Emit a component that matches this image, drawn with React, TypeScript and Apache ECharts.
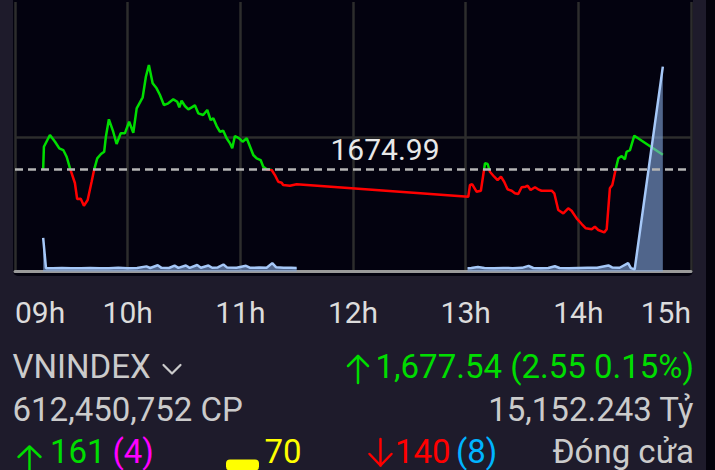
import React, { useEffect, useRef } from "react";
import * as echarts from "echarts";

// ---- data ----
const refPrice = 1674.99;
const hourLabels = ["09h", "10h", "11h", "12h", "13h", "14h", "15h"];

// minutes after 09:00
const priceMinutes = [
  15.0, 15.4, 18.6, 21.3, 23.6, 25.7, 27.5, 29.3, 31.9, 33.1, 35.0, 36.7, 38.7, 40.8, 42.2,
  43.8, 45.8, 47.5, 48.4, 50.0, 52.3, 54.1, 56.3, 58.5, 60.8, 63.0, 64.8, 68.0, 69.7, 71.3,
  73.3, 75.4, 77.2, 79.3, 81.6, 84.3, 86.4, 87.5, 88.7, 90.5, 92.3, 94.1, 95.8, 97.6, 100.2,
  102.4, 104.2, 105.6, 107.4, 109.1, 110.9, 112.7, 114.5, 115.7, 117.1, 119.4, 121.2, 123.4,
  125.5, 126.9, 128.7, 130.8, 132.2, 134.0, 136.7, 138.4, 140.2, 142.0, 142.8, 146.4, 150.0,
  241.4, 242.3, 243.5, 245.8, 248.1, 250.3, 251.7, 252.9, 255.2, 257.0, 258.8, 260.5, 262.3,
  264.5, 266.2, 268.0, 269.8, 271.9, 273.0, 274.6, 276.9, 278.6, 280.4, 283.1, 285.8, 287.2,
  289.3, 292.0, 294.6, 296.4, 299.1, 301.8, 304.0, 307.1, 308.8, 310.6, 313.8, 315.1, 316.8,
  318.1, 319.9, 321.3, 323.1, 324.8, 325.7, 327.5, 329.8, 345.0,
];
const priceValues = [
  1674.99, 1678.94, 1680.98, 1679.81, 1678.66, 1678.36, 1677.19, 1675.16, 1672.6, 1669.8,
  1669.85, 1668.63, 1669.63, 1672.82, 1674.99, 1676.91, 1677.66, 1678.06, 1680.69, 1683.73,
  1681.56, 1679.41, 1681.28, 1681.28, 1683.31, 1681.38, 1685.65, 1687.57, 1691.17, 1693.21,
  1690.01, 1689.14, 1687.97, 1686.22, 1686.52, 1687.22, 1686.8, 1685.82, 1686.97, 1686.05,
  1685.47, 1685.82, 1686.17, 1684.77, 1684.48, 1685.35, 1683.6, 1683.9, 1682.55, 1681.56,
  1681.73, 1680.41, 1679.53, 1678.66, 1680.81, 1680.41, 1679.81, 1680.41, 1678.66, 1677.49,
  1676.91, 1676.61, 1675.44, 1674.99, 1674.87, 1673.99, 1672.82, 1672.65, 1672.25, 1672.12,
  1672.37,
  1670.2, 1672.25, 1672.37, 1671.08, 1671.25, 1676.04, 1675.92, 1674.57, 1673.7, 1673.12,
  1673.7, 1672.82, 1671.5, 1671.25, 1670.8, 1670.67, 1671.85, 1671.95, 1672.12, 1671.37,
  1671.85, 1671.5, 1671.25, 1671.25, 1671.25, 1670.8, 1667.88, 1667.3, 1668.18, 1667.76,
  1666.43, 1665.43, 1664.68, 1664.51, 1664.96, 1664.39, 1663.98, 1664.51, 1671.67, 1672.25,
  1674.99, 1676.91, 1677.31, 1676.74, 1678.06, 1678.36, 1680.86, 1677.54,
];

// volume (relative units), null = lunch break
const volMinutes = [
  15, 16.5, 20, 25, 30, 35, 40, 45, 50, 55, 60, 65, 70, 72, 76, 78, 82, 85, 87, 91, 93, 97, 99,
  103, 105, 108, 111, 113, 118, 123, 125, 130, 134, 137, 139, 143, 147, 150,
  195,
  241, 243, 246.5, 250, 255, 260, 265, 270, 273.5, 276, 280, 284, 287.5, 290, 295, 300, 305,
  310, 316, 318, 322, 326.5, 328, 330, 345,
];
const volValues: (number | null)[] = [
  25, 2.5, 2.4, 2.6, 2.4, 2.5, 2.6, 2.4, 2.5, 2.7, 2.5, 2.6, 3.8, 2.6, 4.6, 2.7, 2.6, 4.3, 2.7,
  4.5, 2.7, 4.8, 2.8, 4.4, 2.8, 3.0, 5.2, 2.9, 2.8, 4.2, 2.8, 2.9, 2.8, 6.2, 3.2, 2.8, 2.7, 2.6,
  null,
  2.4, 2.6, 3.4, 2.6, 2.5, 2.6, 2.5, 2.7, 4.2, 2.6, 2.5, 2.6, 3.9, 2.6, 2.5, 2.6, 2.7, 2.8,
  4.5, 3.0, 2.8, 6.2, 2.5, 1.6, 152,
];

const indexName = "VNINDEX";
const lastPriceText = "1,677.54 (2.55 0.15%)";
const totalVolumeText = "612,450,752 CP";
const totalValueText = "15,152.243 Tỷ";
const advancesText = "161";
const ceilingText = "(4)";
const unchangedText = "70";
const declinesText = "140";
const floorText = "(8)";
const statusText = "Đóng cửa";

const priceAxisMin = 1657.14;
const priceAxisMax = 1704.22;

export default function App() {
  const ref = useRef<HTMLDivElement>(null);
  useEffect(() => {
    const chart = echarts.init(ref.current!, null, { renderer: "svg" });
    const FONT = "Roboto, sans-serif";
    const GREEN = "#00dd00";
    const RED = "#ff0000";
    const GRAY = "#cbcbcb";
    const txt = (text: string, x: number, y: number, fill: string, align = "left", size = 33) => ({
      type: "text",
      x,
      y,
      z: 10,
      silent: true,
      style: {
        text,
        fill,
        fontSize: size,
        fontFamily: FONT,
        textAlign: align,
        textVerticalAlign: "middle",
      },
    });
    const pl = (points: number[][], stroke: string, w = 2.5) => ({
      type: "polyline",
      z: 10,
      silent: true,
      shape: { points },
      style: { stroke, lineWidth: w, fill: null, lineCap: "round", lineJoin: "round" },
    });

    const r1 = 366;
    const r2 = 409;
    const r3 = 451;

    chart.setOption({
      animation: false,
      backgroundColor: "#1e1b2b",
      grid: { left: 15, right: 24, top: 2, bottom: 198.5, containLabel: false },
      xAxis: {
        type: "value",
        min: 0,
        max: 360,
        interval: 60,
        axisLine: { show: true, onZero: false, lineStyle: { color: "#9a9a9a", width: 3 } },
        axisTick: { show: false },
        splitLine: { show: true, lineStyle: { color: "#2d2d2d", width: 2.5 } },
        axisLabel: {
          color: "#dcdcdc",
          fontSize: 30,
          fontFamily: FONT,
          margin: 26,
          alignMinLabel: "left",
          alignMaxLabel: "right",
          formatter: (v: number) => hourLabels[Math.round(v / 60)],
        },
      },
      yAxis: [
        {
          type: "value",
          min: priceAxisMin,
          max: priceAxisMax,
          axisLine: { show: false },
          axisTick: { show: false },
          axisLabel: { show: false },
          splitLine: { show: false },
        },
        {
          type: "value",
          min: 0,
          max: 200,
          interval: 100,
          axisLine: { show: false },
          axisTick: { show: false },
          axisLabel: { show: false },
          splitLine: {
            show: true,
            showMinLine: false,
            showMaxLine: false,
            lineStyle: { color: "#2d2d2d", width: 2.5 },
          },
        },
      ],
      visualMap: {
        type: "piecewise",
        show: false,
        seriesIndex: 0,
        dimension: 1,
        pieces: [
          { gte: priceAxisMin - 50, lt: refPrice, color: RED },
          { gte: refPrice, lte: priceAxisMax + 50, color: GREEN },
        ],
        outOfRange: { color: GREEN },
      },
      series: [
        {
          type: "line",
          yAxisIndex: 0,
          symbol: "none",
          showSymbol: false,
          z: 2,
          lineStyle: { width: 2.5 },
          data: priceMinutes.map((m, i) => [m, priceValues[i]]),
          markLine: {
            silent: true,
            symbol: "none",
            label: { show: false },
            lineStyle: { color: "#b5b5b5", type: [8, 5], width: 2.5 },
            data: [{ yAxis: refPrice }],
          },
        },
        {
          type: "line",
          yAxisIndex: 1,
          symbol: "none",
          showSymbol: false,
          connectNulls: false,
          z: 3,
          lineStyle: { color: "#a6c8f8", width: 2.5 },
          areaStyle: { color: "rgba(128,164,218,0.88)" },
          data: volMinutes.map((m, i) => [m, volValues[i] === null ? "-" : volValues[i]]),
        },
      ],
      graphic: {
        elements: [
          {
            type: "rect",
            z: -10,
            silent: true,
            shape: { x: 13, y: 0, width: 680, height: 276, r: [0, 0, 5, 5] },
            style: { fill: "#03020f" },
          },
          {
            type: "rect",
            z: -10,
            silent: true,
            shape: { x: 706, y: 0, width: 9, height: 470 },
            style: { fill: "#04030c" },
          },
          txt(refPrice.toFixed(2), 385, 149, "#e8e8e8", "center", 30),
          // row 1
          txt(indexName, 12.5, r1, GRAY),
          pl([[163.5, 365], [172, 373.5], [180.5, 365]], GRAY, 2.2),
          pl([[358, 356], [358, 383]], GREEN),
          pl([[348, 366], [358, 356], [368, 366]], GREEN),
          txt(lastPriceText, 694, r1, GREEN, "right"),
          // row 2
          txt(totalVolumeText, 12.5, r2, GRAY),
          txt(totalValueText, 693.5, r2, GRAY, "right"),
          // row 3
          pl([[29.5, 447], [29.5, 476]], GREEN),
          pl([[18.5, 457], [29.5, 446.5], [40.5, 457]], GREEN),
          txt(advancesText, 50, r3, GREEN),
          txt(ceilingText, 112.5, r3, "#ff00ff"),
          {
            type: "rect",
            z: 10,
            silent: true,
            shape: { x: 226, y: 459.5, width: 33, height: 11, r: 4 },
            style: { fill: "#ffff00" },
          },
          txt(unchangedText, 264.5, r3, "#ffff00"),
          pl([[380.5, 439], [380.5, 465.5]], RED),
          pl([[369.5, 454], [380.5, 465.5], [391.5, 454]], RED),
          txt(declinesText, 395, r3, RED),
          txt(floorText, 456, r3, "#00b4ff"),
          txt(statusText, 694, r3, GRAY, "right"),
        ],
      },
    });
    return () => chart.dispose();
  }, []);
  return (
    <div
      ref={ref}
      style={{ position: "absolute", left: 0, top: 0, width: 715, height: 470 }}
    />
  );
}
